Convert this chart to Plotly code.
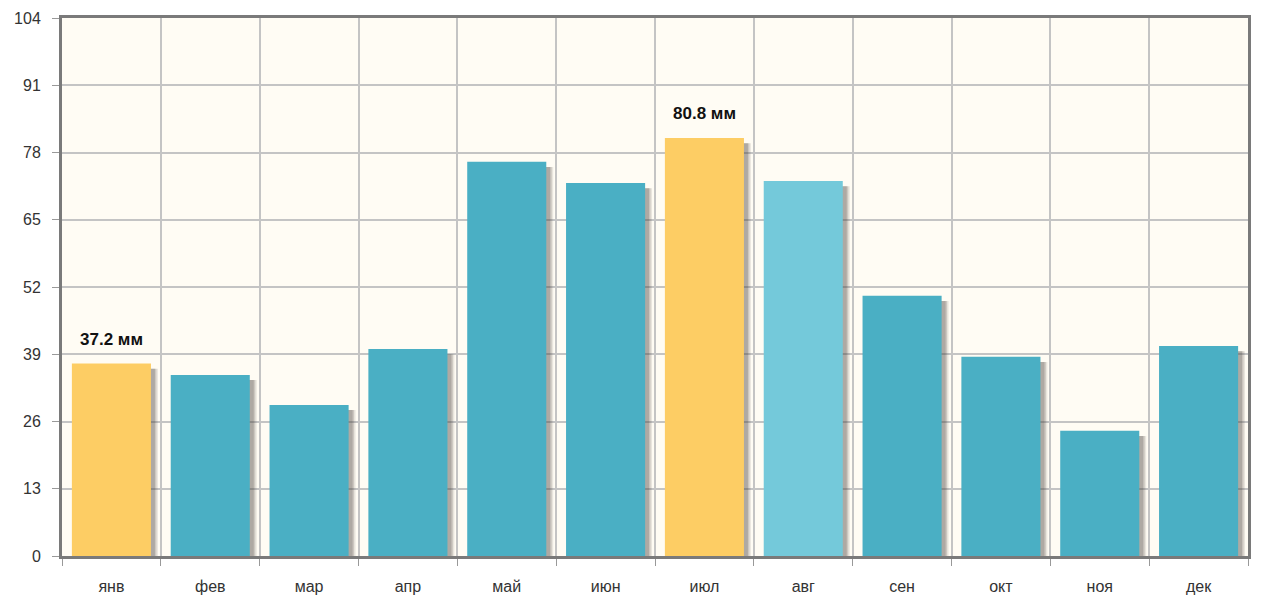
import plotly.graph_objects as go

months = ["янв", "фев", "мар", "апр", "май", "июн", "июл", "авг", "сен", "окт", "ноя", "дек"]
values = [37.2, 35.0, 29.2, 40.0, 76.2, 72.1, 80.8, 72.5, 50.3, 38.5, 24.2, 40.6]
labels = ["37.2 мм", "", "", "", "", "", "80.8 мм", "", "", "", "", ""]
colors = ["#FDCD64", "#4AAFC4", "#4AAFC4", "#4AAFC4", "#4AAFC4", "#4AAFC4",
          "#FDCD64", "#74C9DA", "#4AAFC4", "#4AAFC4", "#4AAFC4", "#4AAFC4"]
y_ticks = [0, 13, 26, 39, 52, 65, 78, 91, 104]

fig = go.Figure()
# soft shadow layers
for off, alpha in [(-0.33, 0.12), (-0.345, 0.18), (-0.36, 0.22)]:
    fig.add_trace(go.Bar(
        x=months, y=[v - 1.0 for v in values], width=0.8, offset=off,
        marker=dict(color=f"rgba(70,65,60,{alpha})", line=dict(width=0)),
        hoverinfo="skip", showlegend=False))
fig.add_trace(go.Bar(
    x=months, y=values, width=0.8, offset=-0.4,
    marker=dict(color=colors, line=dict(width=0)),
    showlegend=False))

for m, v, t in zip(months, values, labels):
    if t:
        fig.add_annotation(x=m, y=v, text="<b>" + t + "</b>", showarrow=False,
                           yanchor="bottom", yshift=13,
                           font=dict(family="Arial", size=17, color="#111"))

fig.update_layout(
    barmode="overlay",
    width=1263, height=600,
    margin=dict(l=62, r=15, t=18, b=44),
    paper_bgcolor="white",
    plot_bgcolor="#FFFCF4",
    font=dict(family="Arial", size=15, color="#333"),
)
fig.update_xaxes(
    tickson="boundaries", ticks="outside", ticklen=7, tickcolor="#999",
    ticklabelstandoff=14, automargin=False,
    showgrid=True, gridcolor="#C4C4C4", gridwidth=1.5,
    showline=True, linecolor="#7A7A7A", linewidth=3, mirror=True,
    tickfont=dict(size=16, color="#333"),
)
fig.update_yaxes(
    range=[0, 104], tickvals=y_ticks, ticks="outside", ticklen=7, tickcolor="#999",
    ticklabelstandoff=8, automargin=False,
    showgrid=True, gridcolor="#C4C4C4", gridwidth=1.5,
    showline=True, linecolor="#7A7A7A", linewidth=3, mirror=True,
    zeroline=False, tickfont=dict(size=16, color="#333"),
)

fig.write_html("out.html")
